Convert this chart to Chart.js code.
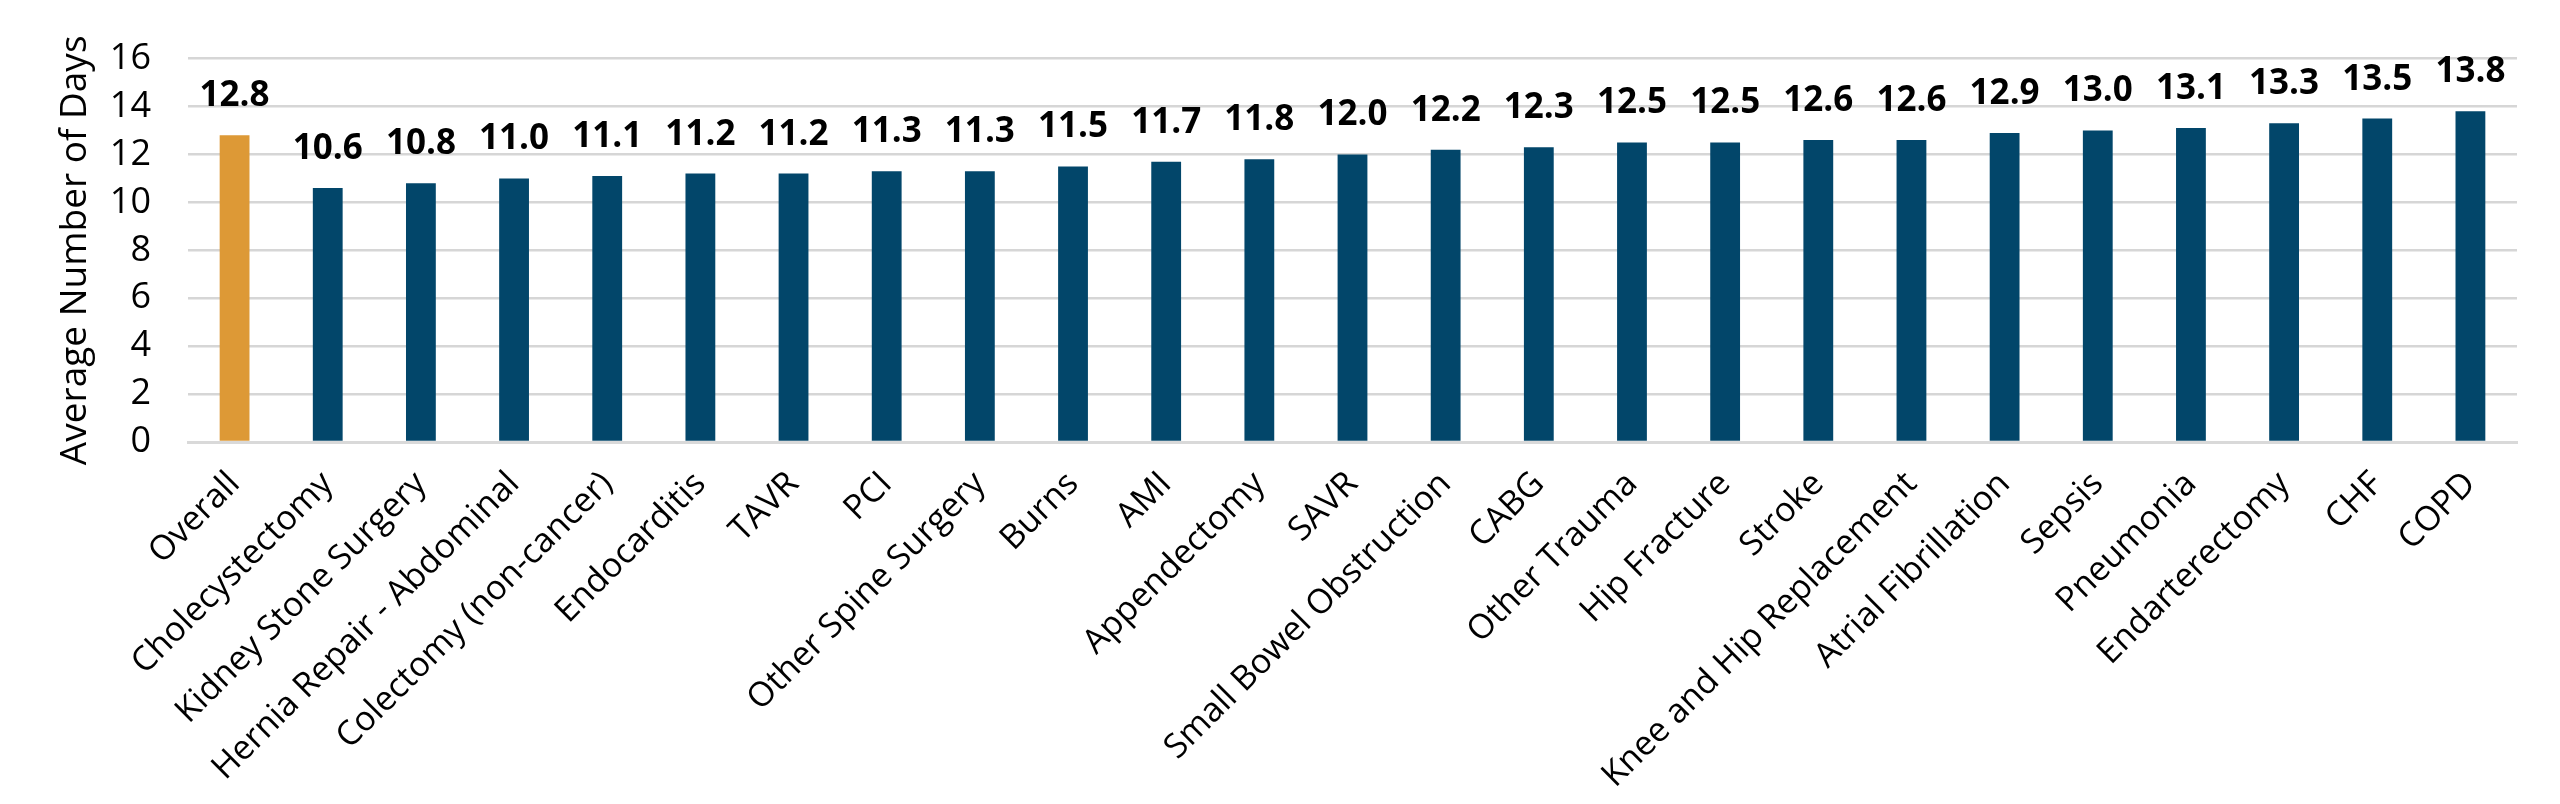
<!DOCTYPE html>
<html>
<head>
<meta charset="utf-8">
<script src="https://cdn.jsdelivr.net/npm/chart.js@4.4.1/dist/chart.umd.min.js"></script>
<style>
  html, body { margin: 0; padding: 0; background: #ffffff; }
  #wrap { width: 2560px; height: 804px; position: relative; }
</style>
</head>
<body>
<div id="wrap"><canvas id="c" width="2560" height="804"></canvas></div>
<script>
const categories = [
  "Overall", "Cholecystectomy", "Kidney Stone Surgery", "Hernia Repair - Abdominal",
  "Colectomy (non-cancer)", "Endocarditis", "TAVR", "PCI", "Other Spine Surgery",
  "Burns", "AMI", "Appendectomy", "SAVR", "Small Bowel Obstruction", "CABG",
  "Other Trauma", "Hip Fracture", "Stroke", "Knee and Hip Replacement",
  "Atrial Fibrillation", "Sepsis", "Pneumonia", "Endarterectomy", "CHF", "COPD"
];
const avgDays = [
  12.8, 10.6, 10.8, 11.0, 11.1, 11.2, 11.2, 11.3, 11.3, 11.5, 11.7, 11.8,
  12.0, 12.2, 12.3, 12.5, 12.5, 12.6, 12.6, 12.9, 13.0, 13.1, 13.3, 13.5, 13.8
];
const yTicks = [0, 2, 4, 6, 8, 10, 12, 14, 16];
const yTitle = "Average Number of Days";

const ORANGE = "#dd9936";
const BLUE = "#02466a";
const barColors = categories.map((c, i) => i === 0 ? ORANGE : BLUE);

const valueLabels = {
  id: "valueLabels",
  afterDatasetsDraw(chart) {
    const ctx = chart.ctx;
    const meta = chart.getDatasetMeta(0);
    ctx.save();
    ctx.font = "bold 35px 'Open Sans'";
    ctx.fillStyle = "#000000";
    ctx.textAlign = "center";
    ctx.textBaseline = "alphabetic";
    meta.data.forEach((el, i) => {
      ctx.fillText(avgDays[i].toFixed(1), el.x, el.y - 29);
    });
    ctx.restore();
  }
};

Chart.defaults.font.family = "'Open Sans', 'Noto Sans', sans-serif";
Chart.defaults.color = "#000000";

new Chart(document.getElementById("c"), {
  type: "bar",
  data: {
    labels: categories,
    datasets: [{
      data: avgDays,
      backgroundColor: barColors,
      borderWidth: 0,
      barPercentage: 0.32,
      categoryPercentage: 1.0
    }]
  },
  options: {
    responsive: false,
    devicePixelRatio: 1,
    animation: false,
    layout: { padding: { top: 44, right: 43, left: 0, bottom: 0 } },
    plugins: {
      legend: { display: false },
      tooltip: { enabled: false }
    },
    scales: {
      x: {
        grid: { display: false, drawTicks: false },
        border: { display: true, color: "#d9d9d9", width: 3 },
        ticks: {
          autoSkip: false,
          minRotation: 45,
          maxRotation: 45,
          padding: 22,
          font: { size: 34 },
          color: "#000000"
        },
        afterFit(scale) { scale.height = 362; }
      },
      y: {
        min: 0,
        max: 16,
        afterBuildTicks(scale) { scale.ticks = yTicks.map(v => ({ value: v })); },
        grid: { color: "#d6d6d6", lineWidth: 2.5, drawTicks: false },
        border: { display: false },
        ticks: {
          padding: 37,
          font: { size: 36 },
          color: "#000000"
        },
        title: {
          display: true,
          text: yTitle,
          font: { size: 37 },
          color: "#000000",
          padding: { top: 53, bottom: 0 }
        },
        afterFit(scale) { scale.width = 188; }
      }
    }
  },
  plugins: [valueLabels]
});
</script>
</body>
</html>
